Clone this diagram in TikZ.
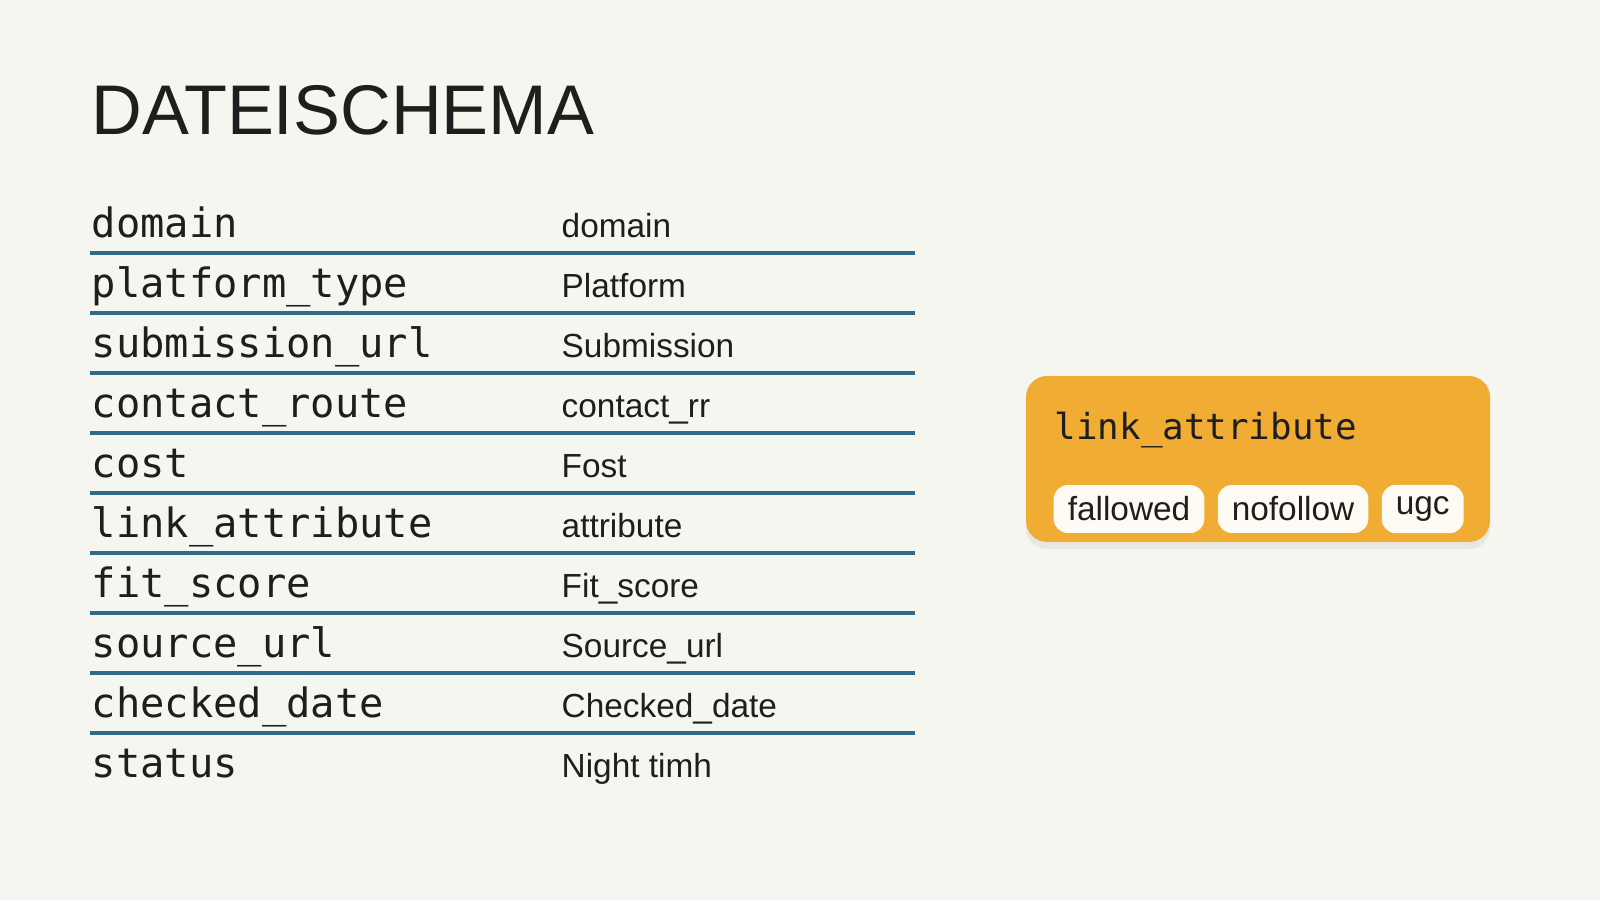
\documentclass[tikz,border=0pt]{standalone}
\usepackage{fontspec}
\setmainfont{Liberation Sans}
\setmonofont{DejaVu Sans Mono}
\usetikzlibrary{positioning,shadows}
\definecolor{paper}{HTML}{F6F6F1}
\definecolor{rule}{HTML}{2F6A88}
\definecolor{amber}{HTML}{F0AC33}
\definecolor{pillbg}{HTML}{FDFBF3}
\definecolor{ink}{HTML}{1E1E1E}
\tikzset{
  field/.style={anchor=base west, inner sep=0pt, font=\ttfamily\fontsize{11.5}{13}\selectfont, text=ink},
  label/.style={anchor=base west, inner sep=0pt, font=\fontsize{9.5}{11}\selectfont, text=ink},
  pill/.style={fill=pillbg, rounded corners=4pt, minimum height=0.46cm, inner xsep=4pt, font=\fontsize{9.5}{11}\selectfont, text=ink},
}
\begin{document}
\begin{tikzpicture}
    \fill[paper] (0,0) rectangle (16,9);
    \useasboundingbox (0,0) rectangle (16,9);

    % Title
    \node[anchor=base west, inner sep=0pt, font=\fontsize{20}{24}\selectfont, text=ink] (title) at (0.91,7.65) {DATEISCHEMA};

    % Schema rows
    \foreach \f/\l [count=\i from 0] in {domain/domain, platform\_type/Platform, submission\_url/Submission,
        contact\_route/contact\_rr, cost/Fost, link\_attribute/attribute, fit\_score/Fit\_score,
        source\_url/Source\_url, checked\_date/Checked\_date, status/Night timh} {
      \node[field] (f\i) at (0.91,{6.63-0.6*\i}) {\f};
      \node[label] (l\i) at (5.61,{6.63-0.6*\i}) {\l};
    }
    \foreach \i in {0,...,8} {
      \coordinate (ra\i) at (0.90,{6.47-0.6*\i});
      \coordinate (rb\i) at (9.15,{6.47-0.6*\i});
      \draw[rule, line width=0.9pt] (ra\i) -- (rb\i);
    }

    % Attribute card
    \node[fill=amber, rounded corners=6pt, minimum width=4.64cm, minimum height=1.66cm,
          drop shadow={opacity=0.12, shadow xshift=0pt, shadow yshift=-2pt}] (card) at (12.58,4.41) {};
    \node[anchor=base west, inner sep=0pt, font=\ttfamily\fontsize{10.2}{12}\selectfont, text=ink] (cardtitle) at (10.54,4.61) {link\_attribute};
    \node[pill, anchor=west] (p1) at (10.53,3.91) {fallowed};
    \node[pill, right=0.12cm of p1] (p2) {nofollow};
    \node[pill, right=0.12cm of p2] (p3) {ugc};
\end{tikzpicture}
\end{document}
